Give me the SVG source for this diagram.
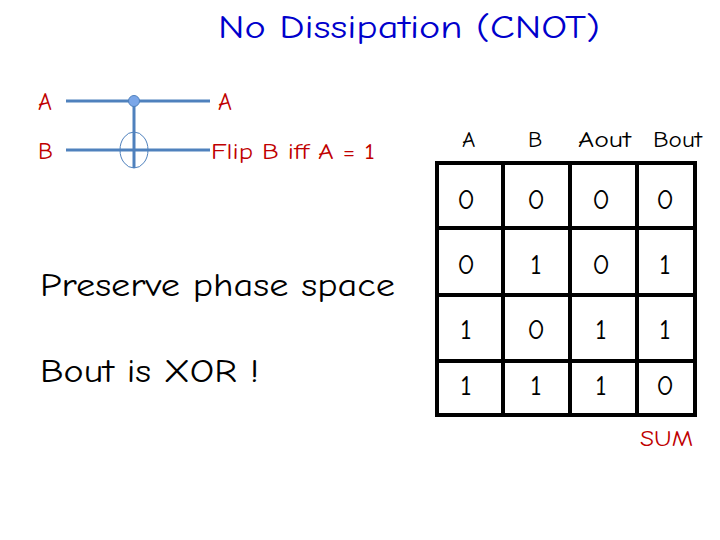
<svg xmlns="http://www.w3.org/2000/svg" width="720" height="540" viewBox="0 0 720 540">
<style>
text{font-family:"Comic Neue","DejaVu Sans","Liberation Sans",sans-serif}
.red{fill:#c00000}
.wire{stroke:#4f81bd;stroke-width:3;fill:none}
.cell{fill:none;stroke:#000;stroke-width:4}
.num{font-size:29px;text-anchor:middle}
.hdr{font-size:23px}
</style>
<rect width="720" height="540" fill="#fff"/>
<text x="218" y="38" font-size="32" fill="#00c" textLength="382" lengthAdjust="spacingAndGlyphs">No Dissipation (CNOT)</text>
<g id="circuit">
<line class="wire" x1="66" y1="101" x2="210" y2="101"/>
<line class="wire" x1="66" y1="150" x2="210" y2="150"/>
<line class="wire" x1="134" y1="101" x2="134" y2="168"/>
<ellipse cx="134" cy="150" rx="14" ry="18" fill="none" stroke="#4f81bd" stroke-width="1"/>
<circle cx="134" cy="101" r="5.5" fill="#7aa6e8" stroke="#4f81bd" stroke-width="1"/>
<text class="red" x="38" y="110" font-size="24">A</text>
<text class="red" x="38" y="159" font-size="24">B</text>
<text class="red" x="218" y="110" font-size="24">A</text>
<text class="red" x="211" y="159" font-size="23" textLength="164" lengthAdjust="spacingAndGlyphs">Flip B iff A = 1</text>
</g>
<text x="40" y="296" font-size="33" textLength="355" lengthAdjust="spacingAndGlyphs">Preserve phase space</text>
<text x="40" y="382" font-size="33" textLength="219" lengthAdjust="spacingAndGlyphs">Bout is XOR !</text>
<g id="table">
<text class="hdr" x="462" y="147">A</text>
<text class="hdr" x="528" y="147">B</text>
<text class="hdr" x="578" y="147" textLength="53" lengthAdjust="spacingAndGlyphs">Aout</text>
<text class="hdr" x="653" y="147" textLength="49" lengthAdjust="spacingAndGlyphs">Bout</text>
<rect class="cell" x="437" y="163" width="258" height="252"/>
<line class="cell" x1="503" y1="163" x2="503" y2="415"/>
<line class="cell" x1="570" y1="163" x2="570" y2="415"/>
<line class="cell" x1="637" y1="163" x2="637" y2="415"/>
<line class="cell" x1="437" y1="228" x2="695" y2="228"/>
<line class="cell" x1="437" y1="295" x2="695" y2="295"/>
<line class="cell" x1="437" y1="361" x2="695" y2="361"/>
<g class="num">
<text x="466" y="209">0</text><text x="536" y="209">0</text><text x="601" y="209">0</text><text x="665" y="209">0</text>
<text x="466" y="274">0</text><text x="536" y="274">1</text><text x="601" y="274">0</text><text x="665" y="274">1</text>
<text x="466" y="339">1</text><text x="536" y="339">0</text><text x="601" y="339">1</text><text x="665" y="339">1</text>
<text x="466" y="395">1</text><text x="536" y="395">1</text><text x="601" y="395">1</text><text x="665" y="395">0</text>
</g>
<text class="red" x="640" y="446" font-size="22" textLength="53" lengthAdjust="spacingAndGlyphs">SUM</text>
</g>
</svg>
